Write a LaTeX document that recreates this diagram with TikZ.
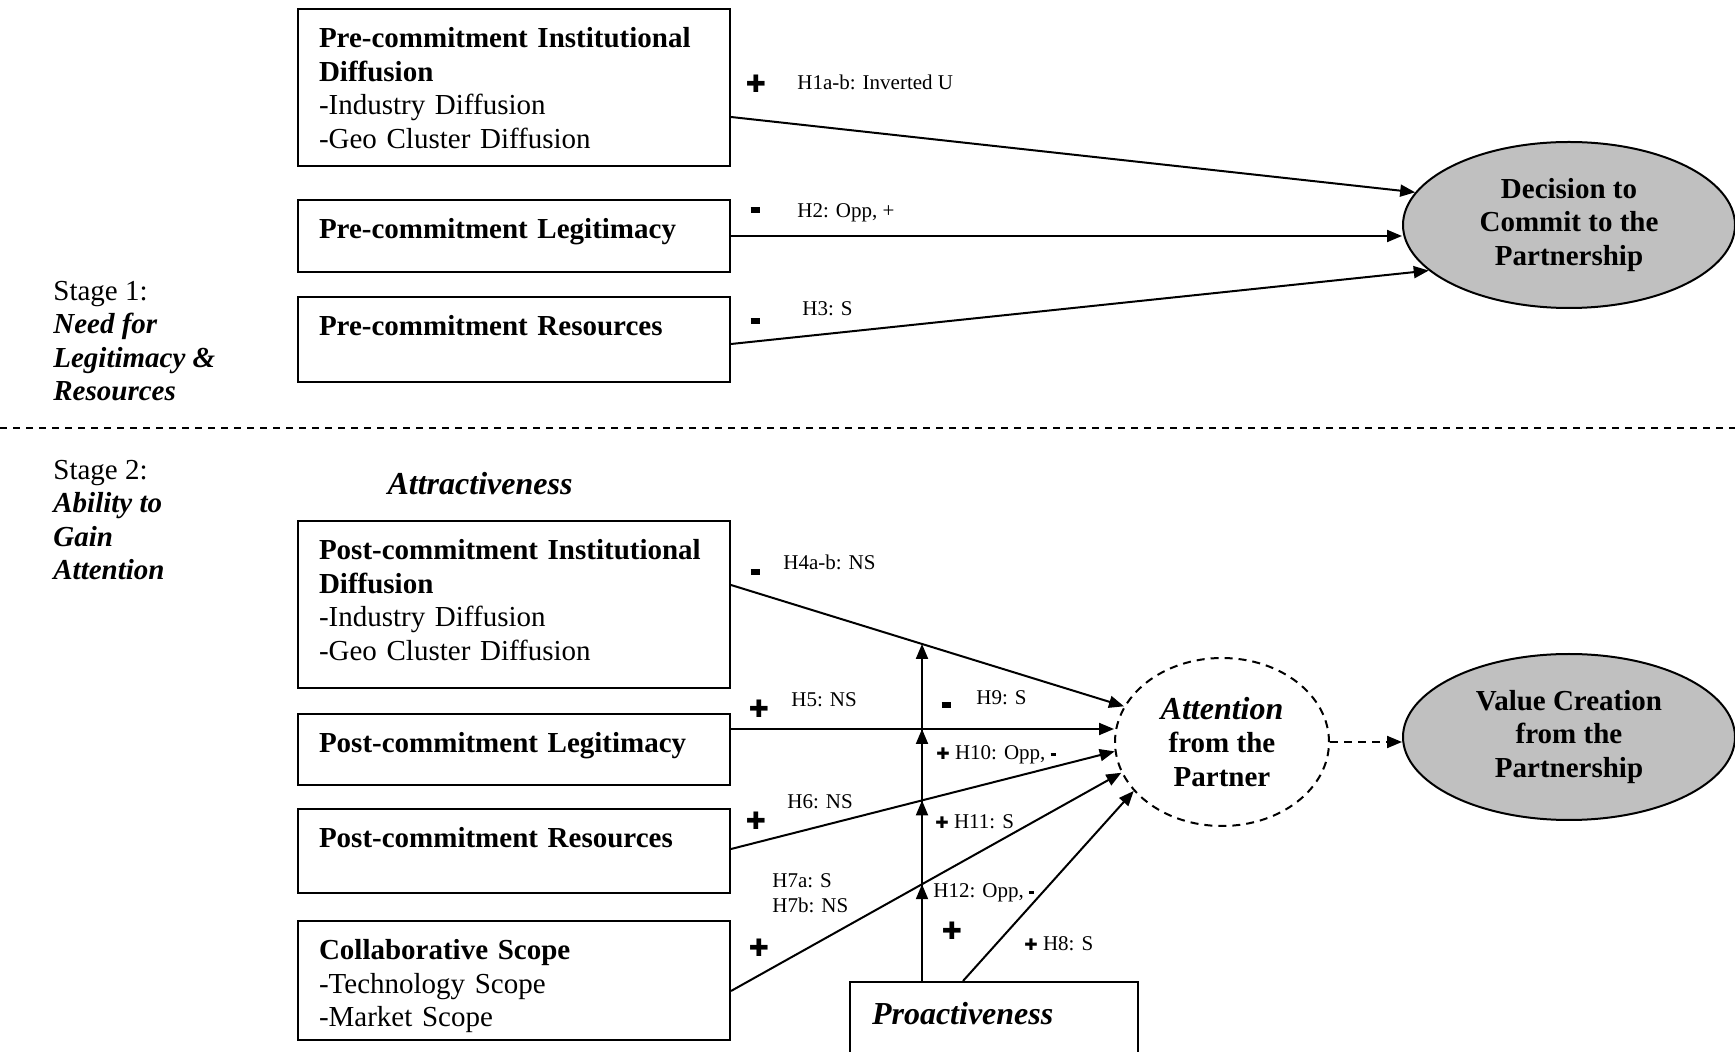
\documentclass[tikz,border=0pt]{standalone}
\usepackage{fontspec}
\setmainfont{Liberation Serif}
\newfontfamily\symfont{DejaVu Sans}
\usetikzlibrary{arrows.meta,shapes.geometric,intersections}
\definecolor{ovalgray}{HTML}{C0C0C0}
\newcommand{\boxfont}{\fontsize{14.5}{16.8}\selectfont}
\newcommand{\hypfont}{\fontsize{10.5}{12.4}\selectfont}
\newcommand{\headfont}{\fontsize{16}{19}\selectfont\bfseries\itshape}
\newcommand{\pl}{{\symfont\fontsize{8}{8}\selectfont ✚}}
\newcommand{\mi}{\rule[1.9pt]{2.6pt}{1.7pt}}

\begin{document}
\begin{tikzpicture}[x=0.5pt,y=-0.5pt,
  construct/.style={draw, line width=1pt, minimum width=216pt, text width=195pt,
    align=left, inner xsep=10.5pt, inner ysep=0pt, font=\boxfont, text height=19.3pt},
  outcome/.style={ellipse, draw, line width=1pt, fill=ovalgray, minimum width=166pt,
    minimum height=83pt, inner sep=0pt, align=center, font=\boxfont\bfseries},
  link/.style={line width=1pt, -{Triangle[length=7.5pt,width=6pt]}},
  hyp/.style={anchor=west, inner sep=0pt, font=\hypfont},
  sign/.style={inner sep=0pt, font=\symfont\fontsize{12}{12}\selectfont}]
  \useasboundingbox (0,0) rectangle (1735,1052);
  \clip (0,0) rectangle (1735,1052);

  % stage 1
  \node[construct, text depth=59.2pt] (pre1) at (514,87.5)
    {\textbf{Pre-commitment Institutional}\\\textbf{Diffusion}\\-Industry Diffusion\\-Geo Cluster Diffusion};
  \node[construct, text depth=16.7pt] (pre2) at (514,236)
    {\textbf{Pre-commitment Legitimacy}};
  \node[construct, text depth=23.3pt] (pre3) at (514,339.5)
    {\textbf{Pre-commitment Resources}};
  \node[outcome] (commit) at (1569,225) {Decision to\\Commit to the\\Partnership};
  \node[anchor=north west, inner sep=0pt, align=left, font=\boxfont] (stage1) at (53,280.5)
    {Stage 1:\\\textbf{\textit{Need for}}\\\textbf{\textit{Legitimacy \&}}\\\textbf{\textit{Resources}}};

  \draw[dashed, dash pattern=on 3.5pt off 3pt, line width=0.7pt] (0,428) -- (1735,428);

  % stage 2
  \node[anchor=north west, inner sep=0pt, align=left, font=\boxfont] (stage2) at (53,459.5)
    {Stage 2:\\\textbf{\textit{Ability to}}\\\textbf{\textit{Gain}}\\\textbf{\textit{Attention}}};
  \node[font=\headfont] (attract) at (480,484) {Attractiveness};
  \node[construct, text depth=64.2pt] (post1) at (514,604.5)
    {\textbf{Post-commitment Institutional}\\\textbf{Diffusion}\\-Industry Diffusion\\-Geo Cluster Diffusion};
  \node[construct, text depth=16.1pt] (post2) at (514,749.5)
    {\textbf{Post-commitment Legitimacy}};
  \node[construct, text depth=22.7pt] (post3) at (514,851)
    {\textbf{Post-commitment Resources}};
  \node[construct, text depth=40.4pt] (scope) at (514,980.5)
    {\textbf{Collaborative Scope}\\-Technology Scope\\-Market Scope};
  \node[construct, anchor=north west, minimum width=144pt, text width=122pt, inner xsep=11pt,
    text height=21.2pt, text depth=40pt, font=\headfont] (pro) at (849,981) {Proactiveness};
  \node[outcome, fill=none, dashed, dash pattern=on 4pt off 3pt, minimum width=107pt,
    minimum height=84pt] (att) at (1222,742) {{\headfont Attention}\\from the\\Partner};
  \node[outcome] (value) at (1569,737) {Value Creation\\from the\\Partnership};

  % paths
  \draw[link] ([yshift=-14.75pt]pre1.east) -- (commit.168.5);
  \draw[link] (pre2.east) -- (pre2.east -| commit.west);
  \draw[link] ([yshift=-2.25pt]pre3.east) -- (commit.198.8);
  \draw[link, name path=h4] ([yshift=9.75pt]post1.east) -- (att.160.8);
  \draw[link, name path=h5] ([yshift=10.25pt]post2.east) -- ([yshift=10.25pt]post2.east -| att.west);
  \draw[link, name path=h6] ([yshift=1pt]post3.east) -- (att.185);
  \draw[link, name path=h7] ([yshift=-5.25pt]scope.east) -- (att.197);
  \draw[link] ([xshift=57pt]pro.north west) -- (att.209);
  \draw[link, dashed, dash pattern=on 4pt off 3pt] (att.east) -- (att.east -| value.west);

  % moderation by proactiveness
  \coordinate (stem) at ([xshift=36.5pt]pro.north west);
  \path[name path=stemline] (stem) -- ++(0,-600);
  \foreach \h in {4,5,6,7} {
    \path[name intersections={of=stemline and h\h, by=m\h}];
    \draw[link] (stem) -- (m\h);
  }

  % hypotheses
  \node[sign] (s1) at (756,84) {✚};
  \node[hyp] (l1) at (797,82) {H1a-b: Inverted U};
  \node[sign] (s2) at (755,210) {\rule{4.5pt}{2.6pt}};
  \node[hyp] (l2) at (797,213) {H2: Opp, +};
  \node[sign] (s3) at (755,321) {\rule{4.5pt}{2.6pt}};
  \node[hyp] (l3) at (802,309) {H3: S};
  \node[sign] (s4) at (755,572) {\rule{4.5pt}{2.6pt}};
  \node[hyp] (l4) at (783,562) {H4a-b: NS};
  \node[sign] (s5) at (759,709) {✚};
  \node[hyp] (l5) at (791,700) {H5: NS};
  \node[sign] (s9) at (946,705) {\rule{4.5pt}{2.6pt}};
  \node[hyp] (l9) at (976,698) {H9: S};
  \node[hyp] (l10) at (936,755) {\pl{} H10: Opp, \mi};
  \node[hyp] (l6) at (787,802) {H6: NS};
  \node[sign] (s6) at (756,821) {✚};
  \node[hyp] (l11) at (935,822) {\pl{} H11: S};
  \node[hyp, align=left] (l7) at (772,893) {H7a: S\\H7b: NS};
  \node[hyp] (l12) at (933,893) {H12: Opp, \mi};
  \node[sign] (s12) at (952,931) {✚};
  \node[hyp] (l8) at (1024,944) {\pl{} H8: S};
  \node[sign] (s7) at (759,948) {✚};
\end{tikzpicture}
\end{document}
